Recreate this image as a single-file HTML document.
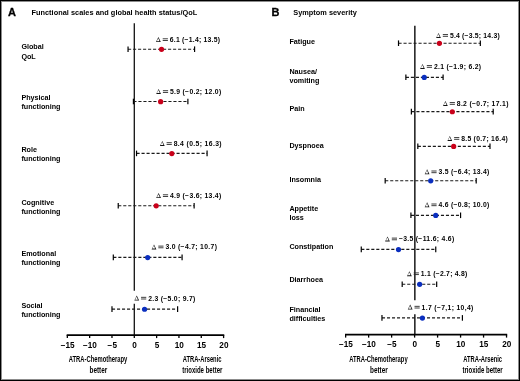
<!DOCTYPE html>
<html><head><meta charset="utf-8"><style>
html,body{margin:0;padding:0;background:#fff;}
#c{position:relative;width:520px;height:381px;overflow:hidden;background:#fff;}
svg{position:absolute;left:0;top:0;font-family:'Liberation Sans', sans-serif;will-change:transform;}
#bd{position:absolute;left:0;top:0;width:518px;height:379px;border:1px solid #000;box-shadow:inset 0 0 0 1px rgba(0,0,0,0.45);}
</style></head><body><div id="c">
<svg width="520" height="381" viewBox="0 0 520 381" fill="#000">
<text x="8.00" y="15.80" font-size="11" font-weight="700" text-anchor="start" stroke="#000" stroke-width="0.3">A</text>
<text x="31.40" y="14.60" font-size="7.35" font-weight="700" text-anchor="start" textLength="165.9" lengthAdjust="spacing">Functional scales and global health status/QoL</text>
<line x1="134.30" y1="23.20" x2="134.30" y2="290.80" stroke="#111" stroke-width="1.3"/>
<line x1="134.30" y1="303.80" x2="134.30" y2="335.10" stroke="#111" stroke-width="1.3"/>
<line x1="66.68" y1="335.10" x2="224.25" y2="335.10" stroke="#000" stroke-width="1.6"/>
<line x1="67.33" y1="335.10" x2="67.33" y2="338.10" stroke="#000" stroke-width="1.3"/>
<text x="67.63" y="347.55" font-size="8.2" font-weight="700" text-anchor="middle" >−15</text>
<line x1="89.65" y1="335.10" x2="89.65" y2="338.10" stroke="#000" stroke-width="1.3"/>
<text x="89.95" y="347.55" font-size="8.2" font-weight="700" text-anchor="middle" >−10</text>
<line x1="111.98" y1="335.10" x2="111.98" y2="338.10" stroke="#000" stroke-width="1.3"/>
<text x="112.28" y="347.55" font-size="8.2" font-weight="700" text-anchor="middle" >−5</text>
<line x1="134.30" y1="335.10" x2="134.30" y2="338.10" stroke="#000" stroke-width="1.3"/>
<text x="134.60" y="347.55" font-size="8.2" font-weight="700" text-anchor="middle" >0</text>
<line x1="156.62" y1="335.10" x2="156.62" y2="338.10" stroke="#000" stroke-width="1.3"/>
<text x="156.93" y="347.55" font-size="8.2" font-weight="700" text-anchor="middle" >5</text>
<line x1="178.95" y1="335.10" x2="178.95" y2="338.10" stroke="#000" stroke-width="1.3"/>
<text x="179.25" y="347.55" font-size="8.2" font-weight="700" text-anchor="middle" >10</text>
<line x1="201.28" y1="335.10" x2="201.28" y2="338.10" stroke="#000" stroke-width="1.3"/>
<text x="201.58" y="347.55" font-size="8.2" font-weight="700" text-anchor="middle" >15</text>
<line x1="223.60" y1="335.10" x2="223.60" y2="338.10" stroke="#000" stroke-width="1.3"/>
<text x="223.90" y="347.55" font-size="8.2" font-weight="700" text-anchor="middle" >20</text>
<text x="21.40" y="49.00" font-size="7.2" font-weight="700" text-anchor="start" >Global</text>
<text x="21.40" y="58.50" font-size="7.2" font-weight="700" text-anchor="start" >QoL</text>
<line x1="128.05" y1="49.20" x2="194.58" y2="49.20" stroke="#1a1a1a" stroke-width="1.15" stroke-dasharray="3.1 1.9"/>
<line x1="128.05" y1="46.40" x2="128.05" y2="52.00" stroke="#000" stroke-width="1.2"/>
<line x1="194.58" y1="46.40" x2="194.58" y2="52.00" stroke="#000" stroke-width="1.2"/>
<circle cx="161.54" cy="49.35" r="2.6" fill="#c9001a"/>
<path fill-rule="evenodd" fill="#111" d="M156.00,42.10L158.40,37.10L160.80,42.10Z M156.75,41.20L158.30,38.15L159.55,41.20Z"/>
<rect x="162.70" y="38.35" width="5.2" height="0.9" fill="#2a2a2a"/>
<rect x="162.70" y="40.05" width="5.2" height="0.9" fill="#2a2a2a"/>
<text x="169.80" y="42.00" font-size="6.8" font-weight="700" text-anchor="start" textLength="50.20" lengthAdjust="spacing">6.1 (−1.4; 13.5)</text>
<text x="21.40" y="99.80" font-size="7.2" font-weight="700" text-anchor="start" >Physical</text>
<text x="21.40" y="109.10" font-size="7.2" font-weight="700" text-anchor="start" >functioning</text>
<line x1="133.41" y1="101.50" x2="187.88" y2="101.50" stroke="#1a1a1a" stroke-width="1.15" stroke-dasharray="3.1 1.9"/>
<line x1="133.41" y1="98.70" x2="133.41" y2="104.30" stroke="#000" stroke-width="1.2"/>
<line x1="187.88" y1="98.70" x2="187.88" y2="104.30" stroke="#000" stroke-width="1.2"/>
<circle cx="160.64" cy="101.65" r="2.6" fill="#c9001a"/>
<path fill-rule="evenodd" fill="#111" d="M156.20,94.00L158.60,89.00L161.00,94.00Z M156.95,93.10L158.50,90.05L159.75,93.10Z"/>
<rect x="162.90" y="90.25" width="5.2" height="0.9" fill="#2a2a2a"/>
<rect x="162.90" y="91.95" width="5.2" height="0.9" fill="#2a2a2a"/>
<text x="170.00" y="93.90" font-size="6.8" font-weight="700" text-anchor="start" textLength="51.20" lengthAdjust="spacing">5.9 (−0.2; 12.0)</text>
<text x="21.40" y="151.90" font-size="7.2" font-weight="700" text-anchor="start" >Role</text>
<text x="21.40" y="161.30" font-size="7.2" font-weight="700" text-anchor="start" >functioning</text>
<line x1="136.53" y1="153.40" x2="207.08" y2="153.40" stroke="#1a1a1a" stroke-width="1.15" stroke-dasharray="3.1 1.9"/>
<line x1="136.53" y1="150.60" x2="136.53" y2="156.20" stroke="#000" stroke-width="1.2"/>
<line x1="207.08" y1="150.60" x2="207.08" y2="156.20" stroke="#000" stroke-width="1.2"/>
<circle cx="171.81" cy="153.55" r="2.6" fill="#c9001a"/>
<path fill-rule="evenodd" fill="#111" d="M159.90,146.00L162.30,141.00L164.70,146.00Z M160.65,145.10L162.20,142.05L163.45,145.10Z"/>
<rect x="166.60" y="142.25" width="5.2" height="0.9" fill="#2a2a2a"/>
<rect x="166.60" y="143.95" width="5.2" height="0.9" fill="#2a2a2a"/>
<text x="173.70" y="145.90" font-size="6.8" font-weight="700" text-anchor="start" textLength="47.90" lengthAdjust="spacing">8.4 (0.5; 16.3)</text>
<text x="21.40" y="204.90" font-size="7.2" font-weight="700" text-anchor="start" >Cognitive</text>
<text x="21.40" y="214.10" font-size="7.2" font-weight="700" text-anchor="start" >functioning</text>
<line x1="118.23" y1="205.70" x2="194.13" y2="205.70" stroke="#1a1a1a" stroke-width="1.15" stroke-dasharray="3.1 1.9"/>
<line x1="118.23" y1="202.90" x2="118.23" y2="208.50" stroke="#000" stroke-width="1.2"/>
<line x1="194.13" y1="202.90" x2="194.13" y2="208.50" stroke="#000" stroke-width="1.2"/>
<circle cx="156.18" cy="205.85" r="2.6" fill="#c9001a"/>
<path fill-rule="evenodd" fill="#111" d="M156.20,198.10L158.60,193.10L161.00,198.10Z M156.95,197.20L158.50,194.15L159.75,197.20Z"/>
<rect x="162.90" y="194.35" width="5.2" height="0.9" fill="#2a2a2a"/>
<rect x="162.90" y="196.05" width="5.2" height="0.9" fill="#2a2a2a"/>
<text x="170.00" y="198.00" font-size="6.8" font-weight="700" text-anchor="start" textLength="51.20" lengthAdjust="spacing">4.9 (−3.6; 13.4)</text>
<text x="21.40" y="256.10" font-size="7.2" font-weight="700" text-anchor="start" >Emotional</text>
<text x="21.40" y="265.30" font-size="7.2" font-weight="700" text-anchor="start" >functioning</text>
<line x1="113.31" y1="257.40" x2="182.08" y2="257.40" stroke="#1a1a1a" stroke-width="1.15" stroke-dasharray="3.1 1.9"/>
<line x1="113.31" y1="254.60" x2="113.31" y2="260.20" stroke="#000" stroke-width="1.2"/>
<line x1="182.08" y1="254.60" x2="182.08" y2="260.20" stroke="#000" stroke-width="1.2"/>
<circle cx="147.70" cy="257.55" r="2.6" fill="#0b2fbf"/>
<path fill-rule="evenodd" fill="#111" d="M151.60,249.40L154.00,244.40L156.40,249.40Z M152.35,248.50L153.90,245.45L155.15,248.50Z"/>
<rect x="158.30" y="245.65" width="5.2" height="0.9" fill="#2a2a2a"/>
<rect x="158.30" y="247.35" width="5.2" height="0.9" fill="#2a2a2a"/>
<text x="165.40" y="249.30" font-size="6.8" font-weight="700" text-anchor="start" textLength="51.50" lengthAdjust="spacing">3.0 (−4.7; 10.7)</text>
<text x="21.40" y="307.90" font-size="7.2" font-weight="700" text-anchor="start" >Social</text>
<text x="21.40" y="317.30" font-size="7.2" font-weight="700" text-anchor="start" >functioning</text>
<line x1="111.98" y1="309.10" x2="177.61" y2="309.10" stroke="#1a1a1a" stroke-width="1.15" stroke-dasharray="3.1 1.9"/>
<line x1="111.98" y1="306.30" x2="111.98" y2="311.90" stroke="#000" stroke-width="1.2"/>
<line x1="177.61" y1="306.30" x2="177.61" y2="311.90" stroke="#000" stroke-width="1.2"/>
<circle cx="144.57" cy="309.25" r="2.6" fill="#0b2fbf"/>
<path fill-rule="evenodd" fill="#111" d="M134.35,300.60L136.75,295.60L139.15,300.60Z M135.10,299.70L136.65,296.65L137.90,299.70Z"/>
<rect x="141.05" y="296.85" width="5.2" height="0.9" fill="#2a2a2a"/>
<rect x="141.05" y="298.55" width="5.2" height="0.9" fill="#2a2a2a"/>
<text x="148.15" y="300.50" font-size="6.8" font-weight="700" text-anchor="start" textLength="47.15" lengthAdjust="spacing">2.3 (−5.0; 9.7)</text>
<text x="271.50" y="16.40" font-size="11" font-weight="700" text-anchor="start" stroke="#000" stroke-width="0.3">B</text>
<text x="293.30" y="15.40" font-size="7.35" font-weight="700" text-anchor="start" textLength="63.5" lengthAdjust="spacing">Symptom severity</text>
<line x1="414.85" y1="25.80" x2="414.85" y2="300.20" stroke="#111" stroke-width="1.45"/>
<line x1="414.85" y1="314.30" x2="414.85" y2="334.60" stroke="#111" stroke-width="1.45"/>
<line x1="345.00" y1="334.60" x2="507.19" y2="334.60" stroke="#000" stroke-width="1.6"/>
<line x1="345.64" y1="334.60" x2="345.64" y2="337.60" stroke="#000" stroke-width="1.3"/>
<text x="345.94" y="347.05" font-size="8.2" font-weight="700" text-anchor="middle" >−15</text>
<line x1="368.63" y1="334.60" x2="368.63" y2="337.60" stroke="#000" stroke-width="1.3"/>
<text x="368.93" y="347.05" font-size="8.2" font-weight="700" text-anchor="middle" >−10</text>
<line x1="391.62" y1="334.60" x2="391.62" y2="337.60" stroke="#000" stroke-width="1.3"/>
<text x="391.92" y="347.05" font-size="8.2" font-weight="700" text-anchor="middle" >−5</text>
<line x1="414.60" y1="334.60" x2="414.60" y2="337.60" stroke="#000" stroke-width="1.3"/>
<text x="414.90" y="347.05" font-size="8.2" font-weight="700" text-anchor="middle" >0</text>
<line x1="437.59" y1="334.60" x2="437.59" y2="337.60" stroke="#000" stroke-width="1.3"/>
<text x="437.89" y="347.05" font-size="8.2" font-weight="700" text-anchor="middle" >5</text>
<line x1="460.57" y1="334.60" x2="460.57" y2="337.60" stroke="#000" stroke-width="1.3"/>
<text x="460.87" y="347.05" font-size="8.2" font-weight="700" text-anchor="middle" >10</text>
<line x1="483.56" y1="334.60" x2="483.56" y2="337.60" stroke="#000" stroke-width="1.3"/>
<text x="483.86" y="347.05" font-size="8.2" font-weight="700" text-anchor="middle" >15</text>
<line x1="506.54" y1="334.60" x2="506.54" y2="337.60" stroke="#000" stroke-width="1.3"/>
<text x="506.84" y="347.05" font-size="8.2" font-weight="700" text-anchor="middle" >20</text>
<text x="289.40" y="43.80" font-size="7.2" font-weight="700" text-anchor="start" >Fatigue</text>
<line x1="398.51" y1="43.20" x2="480.34" y2="43.20" stroke="#1a1a1a" stroke-width="1.15" stroke-dasharray="3.1 1.9"/>
<line x1="398.51" y1="40.40" x2="398.51" y2="46.00" stroke="#000" stroke-width="1.2"/>
<line x1="480.34" y1="40.40" x2="480.34" y2="46.00" stroke="#000" stroke-width="1.2"/>
<circle cx="439.42" cy="43.35" r="2.6" fill="#c9001a"/>
<path fill-rule="evenodd" fill="#111" d="M436.10,37.90L438.50,32.90L440.90,37.90Z M436.85,37.00L438.40,33.95L439.65,37.00Z"/>
<rect x="442.80" y="34.15" width="5.2" height="0.9" fill="#2a2a2a"/>
<rect x="442.80" y="35.85" width="5.2" height="0.9" fill="#2a2a2a"/>
<text x="449.90" y="37.80" font-size="6.8" font-weight="700" text-anchor="start" textLength="49.80" lengthAdjust="spacing">5.4 (−3.5; 14.3)</text>
<text x="289.40" y="73.80" font-size="7.2" font-weight="700" text-anchor="start" >Nausea/</text>
<text x="289.40" y="82.80" font-size="7.2" font-weight="700" text-anchor="start" >vomiting</text>
<line x1="405.87" y1="77.30" x2="443.10" y2="77.30" stroke="#1a1a1a" stroke-width="1.15" stroke-dasharray="3.1 1.9"/>
<line x1="405.87" y1="74.50" x2="405.87" y2="80.10" stroke="#000" stroke-width="1.2"/>
<line x1="443.10" y1="74.50" x2="443.10" y2="80.10" stroke="#000" stroke-width="1.2"/>
<circle cx="424.25" cy="77.45" r="2.6" fill="#0b2fbf"/>
<path fill-rule="evenodd" fill="#111" d="M420.10,68.90L422.50,63.90L424.90,68.90Z M420.85,68.00L422.40,64.95L423.65,68.00Z"/>
<rect x="426.80" y="65.15" width="5.2" height="0.9" fill="#2a2a2a"/>
<rect x="426.80" y="66.85" width="5.2" height="0.9" fill="#2a2a2a"/>
<text x="433.90" y="68.80" font-size="6.8" font-weight="700" text-anchor="start" textLength="47.20" lengthAdjust="spacing">2.1 (−1.9; 6.2)</text>
<text x="289.40" y="111.20" font-size="7.2" font-weight="700" text-anchor="start" >Pain</text>
<line x1="411.38" y1="111.60" x2="493.21" y2="111.60" stroke="#1a1a1a" stroke-width="1.15" stroke-dasharray="3.1 1.9"/>
<line x1="411.38" y1="108.80" x2="411.38" y2="114.40" stroke="#000" stroke-width="1.2"/>
<line x1="493.21" y1="108.80" x2="493.21" y2="114.40" stroke="#000" stroke-width="1.2"/>
<circle cx="452.30" cy="111.75" r="2.6" fill="#c9001a"/>
<path fill-rule="evenodd" fill="#111" d="M443.00,105.90L445.40,100.90L447.80,105.90Z M443.75,105.00L445.30,101.95L446.55,105.00Z"/>
<rect x="449.70" y="102.15" width="5.2" height="0.9" fill="#2a2a2a"/>
<rect x="449.70" y="103.85" width="5.2" height="0.9" fill="#2a2a2a"/>
<text x="456.80" y="105.80" font-size="6.8" font-weight="700" text-anchor="start" textLength="51.60" lengthAdjust="spacing">8.2 (−0.7; 17.1)</text>
<text x="289.40" y="148.00" font-size="7.2" font-weight="700" text-anchor="start" >Dyspnoea</text>
<line x1="417.82" y1="146.30" x2="489.99" y2="146.30" stroke="#1a1a1a" stroke-width="1.15" stroke-dasharray="3.1 1.9"/>
<line x1="417.82" y1="143.50" x2="417.82" y2="149.10" stroke="#000" stroke-width="1.2"/>
<line x1="489.99" y1="143.50" x2="489.99" y2="149.10" stroke="#000" stroke-width="1.2"/>
<circle cx="453.67" cy="146.45" r="2.6" fill="#c9001a"/>
<path fill-rule="evenodd" fill="#111" d="M447.40,140.90L449.80,135.90L452.20,140.90Z M448.15,140.00L449.70,136.95L450.95,140.00Z"/>
<rect x="454.10" y="137.15" width="5.2" height="0.9" fill="#2a2a2a"/>
<rect x="454.10" y="138.85" width="5.2" height="0.9" fill="#2a2a2a"/>
<text x="461.20" y="140.80" font-size="6.8" font-weight="700" text-anchor="start" textLength="46.50" lengthAdjust="spacing">8.5 (0.7; 16.4)</text>
<text x="289.40" y="182.00" font-size="7.2" font-weight="700" text-anchor="start" >Insomnia</text>
<line x1="385.18" y1="180.70" x2="476.20" y2="180.70" stroke="#1a1a1a" stroke-width="1.15" stroke-dasharray="3.1 1.9"/>
<line x1="385.18" y1="177.90" x2="385.18" y2="183.50" stroke="#000" stroke-width="1.2"/>
<line x1="476.20" y1="177.90" x2="476.20" y2="183.50" stroke="#000" stroke-width="1.2"/>
<circle cx="430.69" cy="180.85" r="2.6" fill="#0b2fbf"/>
<path fill-rule="evenodd" fill="#111" d="M424.70,174.30L427.10,169.30L429.50,174.30Z M425.45,173.40L427.00,170.35L428.25,173.40Z"/>
<rect x="431.40" y="170.55" width="5.2" height="0.9" fill="#2a2a2a"/>
<rect x="431.40" y="172.25" width="5.2" height="0.9" fill="#2a2a2a"/>
<text x="438.50" y="174.20" font-size="6.8" font-weight="700" text-anchor="start" textLength="50.80" lengthAdjust="spacing">3.5 (−6.4; 13.4)</text>
<text x="289.40" y="210.70" font-size="7.2" font-weight="700" text-anchor="start" >Appetite</text>
<text x="289.40" y="220.00" font-size="7.2" font-weight="700" text-anchor="start" >loss</text>
<line x1="410.92" y1="215.30" x2="460.57" y2="215.30" stroke="#1a1a1a" stroke-width="1.15" stroke-dasharray="3.1 1.9"/>
<line x1="410.92" y1="212.50" x2="410.92" y2="218.10" stroke="#000" stroke-width="1.2"/>
<line x1="460.57" y1="212.50" x2="460.57" y2="218.10" stroke="#000" stroke-width="1.2"/>
<circle cx="435.75" cy="215.45" r="2.6" fill="#0b2fbf"/>
<path fill-rule="evenodd" fill="#111" d="M424.70,207.30L427.10,202.30L429.50,207.30Z M425.45,206.40L427.00,203.35L428.25,206.40Z"/>
<rect x="431.40" y="203.55" width="5.2" height="0.9" fill="#2a2a2a"/>
<rect x="431.40" y="205.25" width="5.2" height="0.9" fill="#2a2a2a"/>
<text x="438.50" y="207.20" font-size="6.8" font-weight="700" text-anchor="start" textLength="50.80" lengthAdjust="spacing">4.6 (−0.8; 10.0)</text>
<text x="289.40" y="249.30" font-size="7.2" font-weight="700" text-anchor="start" >Constipation</text>
<line x1="361.27" y1="249.40" x2="435.75" y2="249.40" stroke="#1a1a1a" stroke-width="1.15" stroke-dasharray="3.1 1.9"/>
<line x1="361.27" y1="246.60" x2="361.27" y2="252.20" stroke="#000" stroke-width="1.2"/>
<line x1="435.75" y1="246.60" x2="435.75" y2="252.20" stroke="#000" stroke-width="1.2"/>
<circle cx="398.51" cy="249.55" r="2.6" fill="#0b2fbf"/>
<path fill-rule="evenodd" fill="#111" d="M385.10,241.40L387.50,236.40L389.90,241.40Z M385.85,240.50L387.40,237.45L388.65,240.50Z"/>
<rect x="391.80" y="237.65" width="5.2" height="0.9" fill="#2a2a2a"/>
<rect x="391.80" y="239.35" width="5.2" height="0.9" fill="#2a2a2a"/>
<text x="398.90" y="241.30" font-size="6.8" font-weight="700" text-anchor="start" textLength="55.30" lengthAdjust="spacing">−3.5 (−11.6; 4.6)</text>
<text x="289.40" y="282.00" font-size="7.2" font-weight="700" text-anchor="start" >Diarrhoea</text>
<line x1="402.19" y1="284.20" x2="436.67" y2="284.20" stroke="#1a1a1a" stroke-width="1.15" stroke-dasharray="3.1 1.9"/>
<line x1="402.19" y1="281.40" x2="402.19" y2="287.00" stroke="#000" stroke-width="1.2"/>
<line x1="436.67" y1="281.40" x2="436.67" y2="287.00" stroke="#000" stroke-width="1.2"/>
<circle cx="419.66" cy="284.35" r="2.6" fill="#0b2fbf"/>
<path fill-rule="evenodd" fill="#111" d="M407.00,276.20L409.40,271.20L411.80,276.20Z M407.75,275.30L409.30,272.25L410.55,275.30Z"/>
<rect x="413.70" y="272.45" width="5.2" height="0.9" fill="#2a2a2a"/>
<rect x="413.70" y="274.15" width="5.2" height="0.9" fill="#2a2a2a"/>
<text x="420.80" y="276.10" font-size="6.8" font-weight="700" text-anchor="start" textLength="46.50" lengthAdjust="spacing">1.1 (−2.7; 4.8)</text>
<text x="289.40" y="311.80" font-size="7.2" font-weight="700" text-anchor="start" >Financial</text>
<text x="289.40" y="320.90" font-size="7.2" font-weight="700" text-anchor="start" >difficulties</text>
<line x1="381.96" y1="317.90" x2="462.41" y2="317.90" stroke="#1a1a1a" stroke-width="1.15" stroke-dasharray="3.1 1.9"/>
<line x1="381.96" y1="315.10" x2="381.96" y2="320.70" stroke="#000" stroke-width="1.2"/>
<line x1="462.41" y1="315.10" x2="462.41" y2="320.70" stroke="#000" stroke-width="1.2"/>
<circle cx="422.41" cy="318.05" r="2.6" fill="#0b2fbf"/>
<path fill-rule="evenodd" fill="#111" d="M407.80,309.60L410.20,304.60L412.60,309.60Z M408.55,308.70L410.10,305.65L411.35,308.70Z"/>
<rect x="414.50" y="305.85" width="5.2" height="0.9" fill="#2a2a2a"/>
<rect x="414.50" y="307.55" width="5.2" height="0.9" fill="#2a2a2a"/>
<text x="421.60" y="309.50" font-size="6.8" font-weight="700" text-anchor="start" textLength="51.70" lengthAdjust="spacing">1.7 (−7,1; 10,4)</text>
<text x="68.75" y="361.90" font-size="8.3" font-weight="700" text-anchor="start" textLength="58.5" lengthAdjust="spacingAndGlyphs">ATRA-Chemotherapy</text>
<text x="89.50" y="372.70" font-size="8.3" font-weight="700" text-anchor="start" textLength="17.8" lengthAdjust="spacingAndGlyphs">better</text>
<text x="182.70" y="361.90" font-size="8.3" font-weight="700" text-anchor="start" textLength="38.8" lengthAdjust="spacingAndGlyphs">ATRA-Arsenic</text>
<text x="182.20" y="372.70" font-size="8.3" font-weight="700" text-anchor="start" textLength="40.2" lengthAdjust="spacingAndGlyphs">trioxide better</text>
<text x="349.15" y="361.90" font-size="8.3" font-weight="700" text-anchor="start" textLength="58.5" lengthAdjust="spacingAndGlyphs">ATRA-Chemotherapy</text>
<text x="370.00" y="372.70" font-size="8.3" font-weight="700" text-anchor="start" textLength="17.8" lengthAdjust="spacingAndGlyphs">better</text>
<text x="463.30" y="361.90" font-size="8.3" font-weight="700" text-anchor="start" textLength="38.8" lengthAdjust="spacingAndGlyphs">ATRA-Arsenic</text>
<text x="462.50" y="372.70" font-size="8.3" font-weight="700" text-anchor="start" textLength="40.2" lengthAdjust="spacingAndGlyphs">trioxide better</text>
</svg>
<div id="bd"></div>
</div></body></html>
